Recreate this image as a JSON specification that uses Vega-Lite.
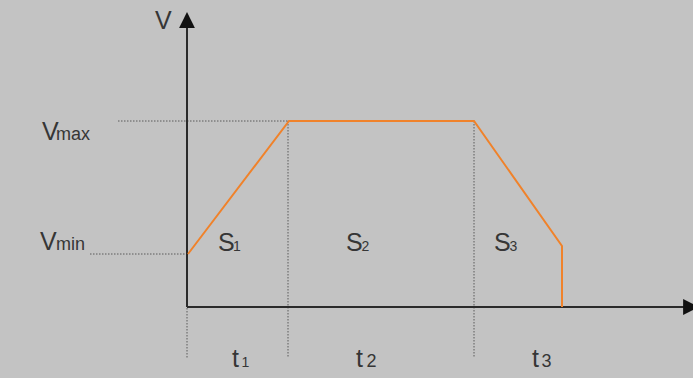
{
  "$schema": "https://vega.github.io/schema/vega-lite/v6.json",
  "width": 693,
  "height": 378,
  "autosize": {"type": "none"},
  "padding": 0,
  "background": "#c3c3c3",
  "config": {"view": {"stroke": null}},
  "datasets": {
    "guides": [
      {"x": -69, "x2": 102, "y": 186, "y2": 186},
      {"x": -97, "x2": 0, "y": 53, "y2": 53},
      {"x": 0, "x2": 0, "y": 53, "y2": -52},
      {"x": 101, "x2": 101, "y": 186, "y2": -51},
      {"x": 287, "x2": 287, "y": 186, "y2": -50}
    ],
    "axes": [
      {"x": 0, "x2": 0, "y": 0, "y2": 282},
      {"x": 0, "x2": 498, "y": 0, "y2": 0}
    ],
    "arrows": [
      {"x": 0, "y": 287, "dir": "up"},
      {"x": 504, "y": 0, "dir": "right"}
    ],
    "speed": [
      {"x": 1, "y": 53, "k": 1},
      {"x": 102, "y": 186, "k": 2},
      {"x": 287, "y": 186, "k": 3},
      {"x": 375, "y": 61, "k": 4},
      {"x": 375, "y": 0, "k": 5}
    ],
    "labels": [
      {"x": -32, "y": 278, "text": "V", "kind": "main"},
      {"x": -145, "y": 167, "text": "V", "kind": "main"},
      {"x": -131, "y": 167, "text": "max", "kind": "word"},
      {"x": -147, "y": 57, "text": "V", "kind": "main"},
      {"x": -131, "y": 57, "text": "min", "kind": "word"},
      {"x": 31, "y": 56, "text": "S", "kind": "main"},
      {"x": 46, "y": 56, "text": "1", "kind": "small"},
      {"x": 159, "y": 56, "text": "S", "kind": "main"},
      {"x": 174.5, "y": 56, "text": "2", "kind": "small"},
      {"x": 307, "y": 56, "text": "S", "kind": "main"},
      {"x": 322.5, "y": 56, "text": "3", "kind": "small"},
      {"x": 45, "y": -60, "text": "t", "kind": "main"},
      {"x": 54.5, "y": -60, "text": "1", "kind": "small"},
      {"x": 169, "y": -60, "text": "t", "kind": "main"},
      {"x": 179.5, "y": -60, "text": "2", "kind": "large"},
      {"x": 345, "y": -60, "text": "t", "kind": "main"},
      {"x": 354.5, "y": -60, "text": "3", "kind": "large"}
    ]
  },
  "encoding": {
    "x": {"field": "x", "type": "quantitative", "scale": {"domain": [-187, 506], "nice": false, "zero": false}, "axis": null},
    "y": {"field": "y", "type": "quantitative", "scale": {"domain": [-71, 307], "nice": false, "zero": false}, "axis": null}
  },
  "layer": [
    {
      "data": {"name": "guides"},
      "mark": {"type": "rule", "color": "#5a5a5a", "strokeWidth": 1, "strokeDash": [1.5, 1.5]},
      "encoding": {"x2": {"field": "x2"}, "y2": {"field": "y2"}}
    },
    {
      "data": {"name": "axes"},
      "mark": {"type": "rule", "color": "#2a2a2a", "strokeWidth": 2},
      "encoding": {"x2": {"field": "x2"}, "y2": {"field": "y2"}}
    },
    {
      "data": {"name": "arrows"},
      "mark": {"type": "point", "filled": true, "color": "#111111", "opacity": 1, "size": 250, "strokeWidth": 0},
      "encoding": {
        "shape": {"field": "dir", "type": "nominal", "scale": {"domain": ["up", "right"], "range": ["M0,-1L-1,1L1,1Z", "M1,0L-1,-1L-1,1Z"]}, "legend": null}
      }
    },
    {
      "data": {"name": "speed"},
      "mark": {"type": "line", "color": "#f0822a", "strokeWidth": 2},
      "encoding": {"order": {"field": "k", "type": "quantitative"}}
    },
    {
      "data": {"name": "labels"},
      "transform": [{"filter": "datum.kind === 'main'"}],
      "mark": {"type": "text", "align": "left", "baseline": "alphabetic", "font": "Liberation Sans", "fontSize": 25, "color": "#363636"},
      "encoding": {"text": {"field": "text"}}
    },
    {
      "data": {"name": "labels"},
      "transform": [{"filter": "datum.kind === 'word'"}],
      "mark": {"type": "text", "align": "left", "baseline": "alphabetic", "font": "Liberation Sans", "fontSize": 18, "color": "#363636"},
      "encoding": {"text": {"field": "text"}}
    },
    {
      "data": {"name": "labels"},
      "transform": [{"filter": "datum.kind === 'small'"}],
      "mark": {"type": "text", "align": "left", "baseline": "alphabetic", "font": "Liberation Sans", "fontSize": 14, "color": "#363636"},
      "encoding": {"text": {"field": "text"}}
    },
    {
      "data": {"name": "labels"},
      "transform": [{"filter": "datum.kind === 'large'"}],
      "mark": {"type": "text", "align": "left", "baseline": "alphabetic", "font": "Liberation Sans", "fontSize": 18, "color": "#363636"},
      "encoding": {"text": {"field": "text"}}
    }
  ]
}
